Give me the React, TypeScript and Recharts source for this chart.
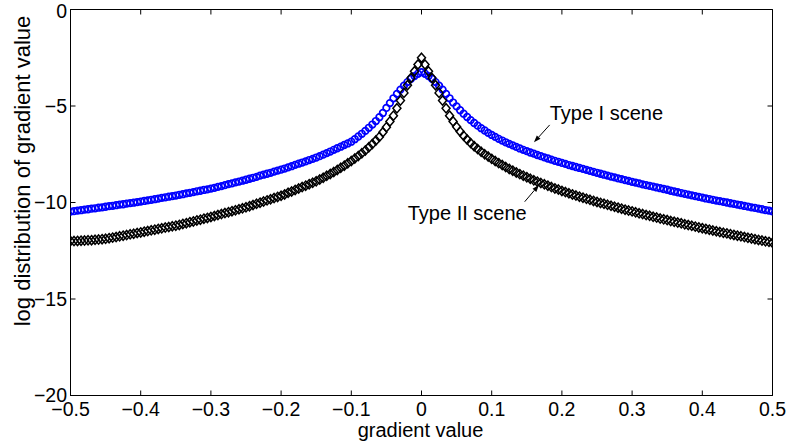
import React from "react";
import {
  ScatterChart,
  Scatter,
  XAxis,
  YAxis,
  ReferenceLine,
  ReferenceDot,
  ReferenceArea,
} from "recharts";

// histogram bins run from -0.5 to 0.5 in steps of 0.005
const BIN_START = -0.5;
const BIN_STEP = 0.005;

// Type I scene (blue circles)
const typeI = [
  -10.47, -10.45, -10.42, -10.4, -10.37, -10.35, -10.32, -10.3, -10.27, -10.25,
  -10.22, -10.19, -10.17, -10.14, -10.11, -10.09, -10.06, -10.03, -10.01, -9.98,
  -9.95, -9.92, -9.89, -9.86, -9.83, -9.8, -9.76, -9.73, -9.7, -9.67,
  -9.64, -9.6, -9.57, -9.53, -9.5, -9.46, -9.42, -9.39, -9.35, -9.32,
  -9.28, -9.24, -9.19, -9.15, -9.1, -9.05, -9.01, -8.96, -8.92, -8.87,
  -8.82, -8.77, -8.72, -8.67, -8.61, -8.56, -8.51, -8.46, -8.4, -8.35,
  -8.3, -8.24, -8.18, -8.12, -8.05, -7.99, -7.93, -7.87, -7.8, -7.74,
  -7.67, -7.6, -7.52, -7.44, -7.36, -7.27, -7.19, -7.11, -7.02, -6.94,
  -6.85, -6.72, -6.58, -6.44, -6.29, -6.13, -5.96, -5.78, -5.58, -5.36,
  -5.1, -4.85, -4.6, -4.37, -4.15, -3.95, -3.76, -3.59, -3.45, -3.33,
  -3.25,
  -3.33, -3.45, -3.59, -3.76, -3.95, -4.15, -4.37, -4.6, -4.82, -5.02,
  -5.22, -5.4, -5.57, -5.73, -5.88, -6.02, -6.15, -6.27, -6.39, -6.5,
  -6.6, -6.7, -6.79, -6.88, -6.96, -7.04, -7.12, -7.2, -7.27, -7.34,
  -7.41, -7.47, -7.54, -7.6, -7.66, -7.72, -7.78, -7.84, -7.89, -7.95,
  -8.0, -8.06, -8.11, -8.16, -8.21, -8.26, -8.31, -8.36, -8.41, -8.46,
  -8.51, -8.56, -8.61, -8.66, -8.7, -8.75, -8.79, -8.84, -8.88, -8.93,
  -8.97, -9.01, -9.06, -9.1, -9.14, -9.18, -9.22, -9.26, -9.3, -9.34,
  -9.39, -9.43, -9.47, -9.51, -9.55, -9.59, -9.63, -9.67, -9.71, -9.75,
  -9.79, -9.82, -9.86, -9.9, -9.93, -9.97, -10.0, -10.04, -10.07, -10.11,
  -10.14, -10.18, -10.21, -10.25, -10.28, -10.32, -10.35, -10.39, -10.42, -10.46,
];

// Type II scene (black diamonds)
const typeII = [
  -12.0, -12.0, -11.99, -11.98, -11.97, -11.96, -11.95, -11.93, -11.92, -11.9,
  -11.88, -11.85, -11.82, -11.79, -11.75, -11.72, -11.69, -11.65, -11.62, -11.58,
  -11.55, -11.51, -11.48, -11.44, -11.41, -11.37, -11.34, -11.3, -11.27, -11.23,
  -11.2, -11.16, -11.11, -11.07, -11.02, -10.98, -10.93, -10.89, -10.84, -10.8,
  -10.75, -10.7, -10.65, -10.6, -10.55, -10.5, -10.45, -10.4, -10.35, -10.3,
  -10.25, -10.19, -10.13, -10.07, -10.01, -9.95, -9.89, -9.83, -9.77, -9.71,
  -9.65, -9.58, -9.5, -9.43, -9.35, -9.28, -9.2, -9.13, -9.05, -8.98,
  -8.9, -8.81, -8.72, -8.62, -8.52, -8.42, -8.31, -8.2, -8.09, -7.97,
  -7.85, -7.72, -7.59, -7.45, -7.3, -7.14, -6.97, -6.79, -6.6, -6.36,
  -6.1, -5.8, -5.5, -5.12, -4.72, -4.32, -3.92, -3.55, -3.2, -2.85,
  -2.5,
  -2.85, -3.2, -3.55, -3.92, -4.32, -4.72, -5.12, -5.5, -5.8, -6.08,
  -6.32, -6.54, -6.74, -6.92, -7.08, -7.23, -7.37, -7.5, -7.62, -7.74,
  -7.85, -7.96, -8.06, -8.16, -8.26, -8.35, -8.44, -8.53, -8.61, -8.69,
  -8.77, -8.85, -8.92, -8.99, -9.06, -9.13, -9.2, -9.27, -9.33, -9.4,
  -9.46, -9.52, -9.58, -9.64, -9.7, -9.75, -9.81, -9.86, -9.92, -9.97,
  -10.02, -10.07, -10.12, -10.17, -10.22, -10.27, -10.32, -10.37, -10.42, -10.46,
  -10.51, -10.56, -10.6, -10.65, -10.69, -10.74, -10.78, -10.83, -10.87, -10.91,
  -10.96, -11.0, -11.04, -11.08, -11.13, -11.17, -11.21, -11.25, -11.29, -11.33,
  -11.37, -11.41, -11.45, -11.49, -11.53, -11.57, -11.6, -11.64, -11.68, -11.72,
  -11.75, -11.79, -11.83, -11.86, -11.9, -11.94, -11.97, -12.01, -12.04, -12.08,
];

const xTicks = [-0.5, -0.4, -0.3, -0.2, -0.1, 0, 0.1, 0.2, 0.3, 0.4, 0.5];
const yTicks = [-20, -15, -10, -5, 0];

const toRows = (vals: number[]) =>
  vals.map((v, i) => ({ g: Number((BIN_START + i * BIN_STEP).toFixed(3)), v }));

const rowsI = toRows(typeI);
const rowsII = toRows(typeII);

const FONT = "'Liberation Sans', Arial, Helvetica, sans-serif";
const TICK_FONT = 19.5;
const TEXT_FONT = 20;

// matlab-style minus sign
const fmt = (n: number) => (n < 0 ? "\u2212" + String(-n) : String(n));

const OpenCircle = (p: any) =>
  p.cx == null ? <g /> : <circle cx={p.cx} cy={p.cy} r={3.3} fill="none" stroke="#0000ff" strokeWidth={1.7} />;

const OpenDiamond = (p: any) =>
  p.cx == null ? (
    <g />
  ) : (
    <path
      d={`M${p.cx},${p.cy - 4.6}L${p.cx + 4},${p.cy}L${p.cx},${p.cy + 4.6}L${p.cx - 4},${p.cy}Z`}
      fill="none"
      stroke="#000"
      strokeWidth={1.5}
    />
  );

// inward ticks on the top edge and the right edge of the box
const TopTick = (p: any) => {
  if (p.x1 == null) return <g />;
  const y = Math.min(p.y1, p.y2);
  return <line x1={p.x1} y1={y} x2={p.x1} y2={y + 5} stroke="#000" strokeWidth={1} />;
};

const RightTick = (p: any) => {
  if (p.y1 == null) return <g />;
  const x = Math.max(p.x1, p.x2);
  return <line x1={x} y1={p.y1} x2={x - 5} y2={p.y1} stroke="#000" strokeWidth={1} />;
};

// annotation arrow: tail at (x1,y1), head at (x2,y2)
const Arrow = (p: any) => {
  const { x1, y1, x2, y2 } = p;
  if ([x1, y1, x2, y2].some((n) => n == null)) return <g />;
  const a = Math.atan2(y2 - y1, x2 - x1);
  const L = 7;
  const W = 2.5;
  const bx = x2 - L * Math.cos(a);
  const by = y2 - L * Math.sin(a);
  const px = -Math.sin(a) * W;
  const py = Math.cos(a) * W;
  return (
    <g>
      <line x1={x1} y1={y1} x2={bx} y2={by} stroke="#000" strokeWidth={1} />
      <path d={`M${x2},${y2}L${bx + px},${by + py}L${bx - px},${by - py}Z`} fill="#000" />
    </g>
  );
};

export default function App() {
  return (
    <div style={{ position: "absolute", left: 0, top: 0, fontFamily: FONT, background: "#fff" }}>
      <ScatterChart width={789} height={442} margin={{ top: 9.5, right: 16.5, bottom: 0, left: 0 }}>
        <XAxis
          type="number"
          dataKey="g"
          domain={[-0.5, 0.5]}
          allowDataOverflow
          ticks={xTicks}
          tickFormatter={fmt}
          height={46.5}
          tickSize={-5}
          tickMargin={11.5}
          stroke="#000"
          tick={{ fill: "#000", fontSize: TICK_FONT }}
          label={{
            content: () => (
              <text x={420.5} y={437} textAnchor="middle" fontSize={TEXT_FONT} fill="#000">
                gradient value
              </text>
            ),
          }}
        />
        <YAxis
          type="number"
          dataKey="v"
          domain={[-20, 0]}
          allowDataOverflow
          ticks={yTicks}
          tickFormatter={fmt}
          width={70.5}
          tickSize={-5}
          tickMargin={8.5}
          stroke="#000"
          tick={{ fill: "#000", fontSize: TICK_FONT }}
          label={{
            content: () => (
              <text
                x={22}
                y={171}
                transform="rotate(-90 22 171)"
                textAnchor="middle"
                dominantBaseline="central"
                fontSize={22}
                fill="#000"
              >
                log distribution of gradient value
              </text>
            ),
          }}
        />
        {/* axes box */}
        <ReferenceArea x1={-0.5} x2={0.5} y1={-20} y2={0} fill="none" fillOpacity={0} stroke="#000" strokeWidth={1} />
        {xTicks.map((t) => (
          <ReferenceLine key={`tx${t}`} x={t} shape={TopTick} />
        ))}
        {yTicks.map((t) => (
          <ReferenceLine key={`ty${t}`} y={t} shape={RightTick} />
        ))}
        <Scatter name="Type I scene" data={rowsI} shape={OpenCircle} isAnimationActive={false} />
        <Scatter name="Type II scene" data={rowsII} shape={OpenDiamond} isAnimationActive={false} />
        <ReferenceLine
          segment={[
            { x: 0.1826, y: -5.98 },
            { x: 0.1602, y: -6.88 },
          ]}
          shape={Arrow}
        />
        <ReferenceLine
          segment={[
            { x: 0.147, y: -9.96 },
            { x: 0.1673, y: -9.09 },
          ]}
          shape={Arrow}
        />
        <ReferenceDot
          x={0.1826}
          y={-5.36}
          r={0}
          fill="none"
          stroke="none"
          label={{ value: "Type I scene", position: "right", offset: 0, fill: "#000", fontSize: TEXT_FONT }}
        />
        <ReferenceDot
          x={-0.0196}
          y={-10.55}
          r={0}
          fill="none"
          stroke="none"
          label={{ value: "Type II scene", position: "right", offset: 0, fill: "#000", fontSize: TEXT_FONT }}
        />
      </ScatterChart>
    </div>
  );
}
